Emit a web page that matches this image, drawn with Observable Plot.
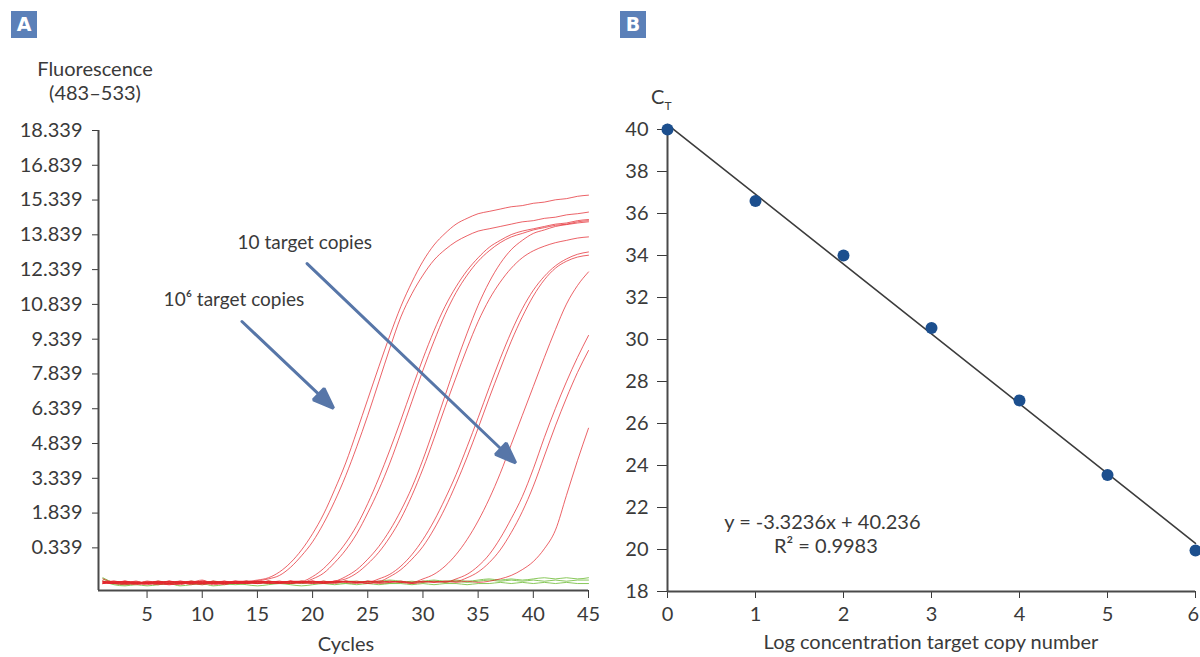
<!DOCTYPE html>
<html><head><meta charset="utf-8">
<script src="https://cdn.jsdelivr.net/npm/d3@7"></script>
<script src="https://cdn.jsdelivr.net/npm/@observablehq/plot@0.6"></script>
<style>
body{margin:0;background:#fff;font-family:Lato,"Open Sans",sans-serif;}
#wrap{position:relative;width:1200px;height:657px;overflow:hidden;background:#fff;}
#wrap svg{position:absolute;top:0;}
.lbl{position:absolute;color:#3a3a3a;font-size:20px;white-space:nowrap;line-height:24px;}
.ctr{transform:translateX(-50%);}
.badge{position:absolute;width:26px;height:27px;background:#5b80b8;color:#fff;font-size:19px;font-weight:bold;text-align:center;line-height:27px;font-family:"DejaVu Sans",sans-serif;}
</style></head>
<body><div id="wrap"></div>
<script>
// ---------- Panel A data ----------
const cycles = [1,2,3,4,5,6,7,8,9,10,11,12,13,14,15,16,17,18,19,20,21,22,23,24,25,26,27,28,29,30,31,32,33,34,35,36,37,38,39,40,41,42,43,44,45];
const xTicksA = [5,10,15,20,25,30,35,40,45];
const yTicksA = [0.339,1.839,3.339,4.839,6.339,7.839,9.339,10.839,12.339,13.839,15.339,16.839,18.339];

// amplification curves (values end at cycle 45)
const amp_1e6_a = [-1.0,-1.15,-1.2,-1.25,-1.15,-1.2,-1.1,-1.2,-1.15,-1.05,-1.2,-1.15,-1.1,-1.1,
  -1.05,-0.95,-0.7,-0.3,0.25,0.95,1.8,2.85,4.0,5.35,6.75,8.15,9.5,10.75,11.8,12.7,13.4,13.9,14.3,14.55,14.75,14.85,14.95,15.05,15.1,15.2,15.25,15.35,15.4,15.5,15.55];
const amp_1e6_b = [-1.1,-1.2,-1.25,-1.15,-1.2,-1.25,-1.15,-1.1,-1.2,-1.15,-1.2,-1.1,-1.15,-1.2,
  -1.1,-1.0,-0.85,-0.5,0.0,0.6,1.4,2.35,3.45,4.7,6.05,7.5,8.95,10.3,11.3,12.1,12.75,13.2,13.55,13.8,14.0,14.1,14.2,14.3,14.4,14.45,14.55,14.6,14.7,14.75,14.82];
const amp_1e5_a = [-1.15,-1.2,-1.1,-1.2,-1.25,-1.15,-1.2,-1.1,-1.15,-1.2,-1.1,-1.15,-1.2,-1.1,-1.15,-1.1,-1.15,-1.1,
  -1.1,-0.9,-0.55,-0.05,0.55,1.3,2.25,3.35,4.56,5.85,7.2,8.5,9.7,10.75,11.6,12.3,12.85,13.3,13.6,13.85,14.0,14.1,14.2,14.3,14.35,14.45,14.5];
const amp_1e5_b = [-1.2,-1.1,-1.15,-1.2,-1.1,-1.2,-1.25,-1.15,-1.1,-1.2,-1.15,-1.2,-1.15,-1.1,-1.2,-1.15,-1.1,-1.15,
  -1.15,-1.0,-0.75,-0.3,0.25,0.95,1.85,2.85,4.0,5.3,6.65,8.0,9.25,10.4,11.35,12.1,12.7,13.15,13.5,13.75,13.9,14.05,14.15,14.25,14.3,14.4,14.45];
const amp_1e4_a = [-1.1,-1.2,-1.15,-1.2,-1.1,-1.15,-1.25,-1.2,-1.1,-1.15,-1.2,-1.1,-1.2,-1.15,-1.1,-1.2,-1.15,-1.1,-1.15,-1.1,-1.15,
  -1.1,-0.9,-0.6,-0.15,0.4,1.1,1.95,2.95,4.15,5.5,6.9,8.3,9.6,10.8,11.8,12.6,13.2,13.6,13.9,14.05,14.2,14.28,14.35,14.4];
const amp_1e4_b = [-1.2,-1.15,-1.1,-1.2,-1.15,-1.2,-1.1,-1.15,-1.2,-1.25,-1.15,-1.1,-1.2,-1.15,-1.1,-1.15,-1.2,-1.1,-1.15,-1.1,-1.15,-1.1,
  -1.0,-0.75,-0.35,0.15,0.8,1.6,2.6,3.75,5.05,6.4,7.7,8.95,10.1,11.05,11.8,12.4,12.85,13.15,13.35,13.5,13.6,13.7,13.75];
const amp_1e3_a = [-1.15,-1.2,-1.1,-1.15,-1.2,-1.1,-1.2,-1.15,-1.25,-1.1,-1.15,-1.2,-1.1,-1.15,-1.2,-1.1,-1.15,-1.1,-1.2,-1.15,-1.1,-1.15,-1.1,-1.15,
  -1.15,-1.0,-0.8,-0.45,0.05,0.7,1.5,2.45,3.5,4.7,5.95,7.25,8.5,9.65,10.65,11.45,12.05,12.5,12.8,13.0,13.1];
const amp_1e3_b = [-1.2,-1.1,-1.15,-1.2,-1.15,-1.1,-1.2,-1.25,-1.15,-1.2,-1.1,-1.15,-1.2,-1.15,-1.1,-1.2,-1.15,-1.1,-1.15,-1.2,-1.1,-1.15,-1.1,-1.15,-1.1,
  -1.1,-0.9,-0.6,-0.15,0.4,1.15,2.05,3.1,4.25,5.5,6.8,8.05,9.25,10.3,11.2,11.9,12.4,12.7,12.88,12.96];
const amp_1e2 = [-1.1,-1.2,-1.15,-1.1,-1.2,-1.15,-1.2,-1.1,-1.15,-1.2,-1.1,-1.25,-1.15,-1.2,-1.1,-1.15,-1.2,-1.15,-1.1,-1.2,-1.15,-1.1,-1.15,-1.2,-1.1,-1.15,-1.1,-1.15,
  -1.15,-1.0,-0.8,-0.45,0.05,0.7,1.5,2.45,3.55,4.8,6.05,7.3,8.55,9.75,10.85,11.65,12.24];
const amp_1e1_a = [-1.15,-1.1,-1.2,-1.15,-1.2,-1.1,-1.15,-1.2,-1.1,-1.15,-1.25,-1.2,-1.1,-1.15,-1.2,-1.1,-1.15,-1.2,-1.15,-1.1,-1.2,-1.15,-1.1,-1.15,-1.2,-1.1,-1.15,-1.1,-1.2,-1.15,-1.1,
  -1.15,-1.0,-0.8,-0.45,0.05,0.75,1.6,2.55,3.75,5.1,6.35,7.5,8.55,9.5];
const amp_1e1_b = [-1.2,-1.15,-1.1,-1.2,-1.15,-1.2,-1.1,-1.15,-1.2,-1.1,-1.15,-1.2,-1.15,-1.1,-1.2,-1.15,-1.1,-1.2,-1.15,-1.1,-1.15,-1.2,-1.1,-1.15,-1.1,-1.2,-1.15,-1.1,-1.15,-1.1,-1.15,-1.1,
  -1.1,-0.95,-0.7,-0.3,0.25,1.0,1.9,3.0,4.3,5.6,6.8,7.9,8.85];
const amp_1e0 = [-1.1,-1.15,-1.2,-1.1,-1.2,-1.15,-1.1,-1.2,-1.15,-1.1,-1.2,-1.15,-1.1,-1.2,-1.15,-1.1,-1.15,-1.2,-1.1,-1.15,-1.2,-1.1,-1.15,-1.1,-1.2,-1.15,-1.1,-1.15,-1.2,-1.1,-1.15,-1.1,-1.15,-1.1,-1.15,
  -1.1,-1.0,-0.85,-0.6,-0.25,0.3,1.1,2.6,4.1,5.5];
// negative controls (green)
const neg_a = [-0.95,-1.15,-1.2,-1.15,-1.2,-1.1,-1.15,-1.2,-1.1,-1.15,-1.1,-1.15,-1.2,-1.1,-1.15,-1.1,-1.15,-1.2,-1.1,-1.15,-1.1,-1.15,-1.1,-1.1,-1.15,-1.1,-1.05,-1.1,-1.15,-1.1,-1.05,-1.1,-1.05,-1.1,-1.05,-1.0,-1.05,-1.0,-1.05,-1.0,-0.95,-1.0,-0.95,-1.0,-0.95];
const neg_b = [-1.0,-1.2,-1.25,-1.2,-1.15,-1.25,-1.2,-1.15,-1.2,-1.25,-1.15,-1.2,-1.25,-1.2,-1.15,-1.2,-1.2,-1.15,-1.2,-1.15,-1.2,-1.15,-1.2,-1.15,-1.1,-1.15,-1.2,-1.15,-1.1,-1.15,-1.1,-1.15,-1.1,-1.15,-1.1,-1.05,-1.1,-1.05,-1.1,-1.05,-1.1,-1.05,-1.1,-1.05,-1.05];
const neg_c = [-1.1,-1.25,-1.3,-1.25,-1.3,-1.25,-1.2,-1.3,-1.25,-1.2,-1.3,-1.25,-1.2,-1.25,-1.3,-1.25,-1.2,-1.25,-1.3,-1.25,-1.2,-1.25,-1.2,-1.25,-1.2,-1.25,-1.2,-1.2,-1.25,-1.2,-1.25,-1.2,-1.2,-1.25,-1.2,-1.2,-1.15,-1.2,-1.15,-1.2,-1.15,-1.2,-1.15,-1.2,-1.2];

const annotationTexts = ["10 target copies", "10\u2076 target copies"];

// ---------- Panel B data ----------
const logConc = [0,1,2,3,4,5,6];
const ctValues = [40.0,36.6,34.0,30.55,27.1,23.55,19.95];
const xTicksB = [0,1,2,3,4,5,6];
const yTicksB = [18,20,22,24,26,28,30,32,34,36,38,40];
const fitSlope = -3.3236, fitIntercept = 40.236, fitR2 = 0.9983;
const fitRange = [0,6];
const eqTexts = ["y = -3.3236x + 40.236", "R\u00b2 = 0.9983"];

// ---------- build tables ----------
function rows(values, id) {
  const off = cycles.length - values.length;
  return values.map((v, i) => ({cycle: cycles[off + i], f: v, id})).filter(d => d.cycle != null);
}
const redSeries = {amp_1e6_a, amp_1e6_b, amp_1e5_a, amp_1e5_b, amp_1e4_a, amp_1e4_b, amp_1e3_a, amp_1e3_b, amp_1e2, amp_1e1_a, amp_1e1_b, amp_1e0};
const greenSeries = {neg_a, neg_b, neg_c};
const redRows = Object.entries(redSeries).flatMap(([k, v]) => rows(v, k));
const greenRows = Object.entries(greenSeries).flatMap(([k, v]) => rows(v, k));

const annA = [
  {text: annotationTexts[0], x: 13.2, y: 13.47},
  {text: annotationTexts[1], x: 6.5, y: 11.02}
];
const arrowsA = [
  {x1: 19.5, y1: 12.6, x2: 38.4, y2: 4.0},
  {x1: 13.6, y1: 10.1, x2: 21.9, y2: 6.36}
];

const ink = "#3a3a3a";
const baseStyle = {fontFamily: "Lato, 'Open Sans', sans-serif", fontSize: "20px", color: ink, background: "transparent", overflow: "visible"};

const plotA = Plot.plot({
  width: 600, height: 657,
  marginLeft: 98, marginRight: 12, marginTop: 130, marginBottom: 67,
  style: baseStyle,
  x: {domain: [0.6, 45], ticks: xTicksA, tickFormat: d => String(d), tickSize: 8, tickPadding: 8, label: null},
  y: {domain: [-1.5, 18.339], ticks: yTicksA, tickFormat: d => d.toFixed(3), tickSize: 6, tickPadding: 10, label: null},
  marks: [
    Plot.line(greenRows, {x: "cycle", y: "f", z: "id", stroke: "#7cc24a", strokeWidth: 1, strokeOpacity: 0.9, curve: "monotone-x"}),
    Plot.line(redRows, {x: "cycle", y: "f", z: "id", stroke: "#e3262d", strokeWidth: 1, strokeOpacity: 0.72, curve: "monotone-x"}),
    Plot.ruleX([0.6], {stroke: "#4a4a4a", strokeWidth: 2}),
    Plot.ruleY([-1.5], {stroke: "#4a4a4a", strokeWidth: 2}),
    Plot.arrow(arrowsA, {x1: "x1", y1: "y1", x2: "x2", y2: "y2", stroke: "#5776a8", strokeWidth: 3, headLength: 11, headAngle: 42}),
    Plot.text(annA, {x: "x", y: "y", text: "text", textAnchor: "start", fontSize: 19, fill: ink})
  ]
});

const fitRows = fitRange.map(x => ({x, y: fitIntercept + fitSlope * x}));
const ptRows = logConc.map((x, i) => ({x, y: ctValues[i]}));
const eqRows = [
  {text: eqTexts[0], x: 1.76, y: 21.3},
  {text: eqTexts[1], x: 1.8, y: 20.15}
];

const plotB = Plot.plot({
  width: 600, height: 657,
  marginLeft: 67, marginRight: 5, marginTop: 129, marginBottom: 66,
  style: baseStyle,
  x: {domain: [0, 6], ticks: xTicksB, tickFormat: d => String(d), tickSize: 7, tickPadding: 8, label: null},
  y: {domain: [18, 40], ticks: yTicksB, tickFormat: d => String(d), tickSize: 10, tickPadding: 9, label: null},
  marks: [
    Plot.ruleX([0], {stroke: "#4a4a4a", strokeWidth: 2}),
    Plot.ruleY([18], {stroke: "#4a4a4a", strokeWidth: 2}),
    Plot.line(fitRows, {x: "x", y: "y", stroke: "#3c3c3c", strokeWidth: 1.6}),
    Plot.dot(ptRows, {x: "x", y: "y", r: 6, fill: "#1c4f8e", stroke: "none"}),
    Plot.text(eqRows, {x: "x", y: "y", text: "text", fontSize: 20, fill: ink})
  ]
});

const wrap = document.getElementById("wrap");
plotA.style.left = "0px";
plotB.style.left = "600px";
wrap.appendChild(plotA);
wrap.appendChild(plotB);

// keep the last x tick label of panel B inside the window
plotB.querySelectorAll("text").forEach(t => {
  if (t.textContent === "6") {
    const r = t.getBoundingClientRect();
    if (r.right > 1199) {
      const cur = t.getAttribute("dx");
      t.setAttribute("dx", (-(r.right - 1199)) + "px");
    }
  }
});

// fill the arrowheads
plotA.querySelectorAll('g[aria-label="arrow"] path').forEach(p => {
  const n = (p.getAttribute("d") || "").match(/-?\d*\.?\d+(?:e[-+]?\d+)?/gi);
  if (!n || n.length < 8) return;
  const v = n.map(Number);
  const L = v.length;
  const [x3, y3, x2, y2, x4, y4] = v.slice(L - 6);
  const bx = (x3 + x4) / 2, by = (y3 + y4) / 2;
  p.setAttribute("d", `M${v[0]},${v[1]}L${bx},${by}M${x3},${y3}L${x2},${y2}L${x4},${y4}Z`);
  p.setAttribute("fill", "#5776a8");
  p.setAttribute("stroke-linejoin", "miter");
});

function addLabel(html, left, top, center) {
  const d = document.createElement("div");
  d.className = "lbl" + (center ? " ctr" : "");
  d.style.left = left + "px"; d.style.top = top + "px";
  d.innerHTML = html;
  wrap.appendChild(d);
}
function addBadge(t, left, top) {
  const d = document.createElement("div");
  d.className = "badge"; d.style.left = left + "px"; d.style.top = top + "px";
  d.textContent = t; wrap.appendChild(d);
}
addBadge("A", 11, 11);
addBadge("B", 620, 11);
addLabel("Fluorescence", 95, 56, true);
addLabel("(483\u2013533)", 95, 80, true);
addLabel("Cycles", 346, 631, true);
addLabel("Log concentration target copy number", 931, 629, true);
addLabel('C<span style="font-size:12px;position:relative;top:6px;">T</span>', 651, 84, false);
</script>
</body></html>
